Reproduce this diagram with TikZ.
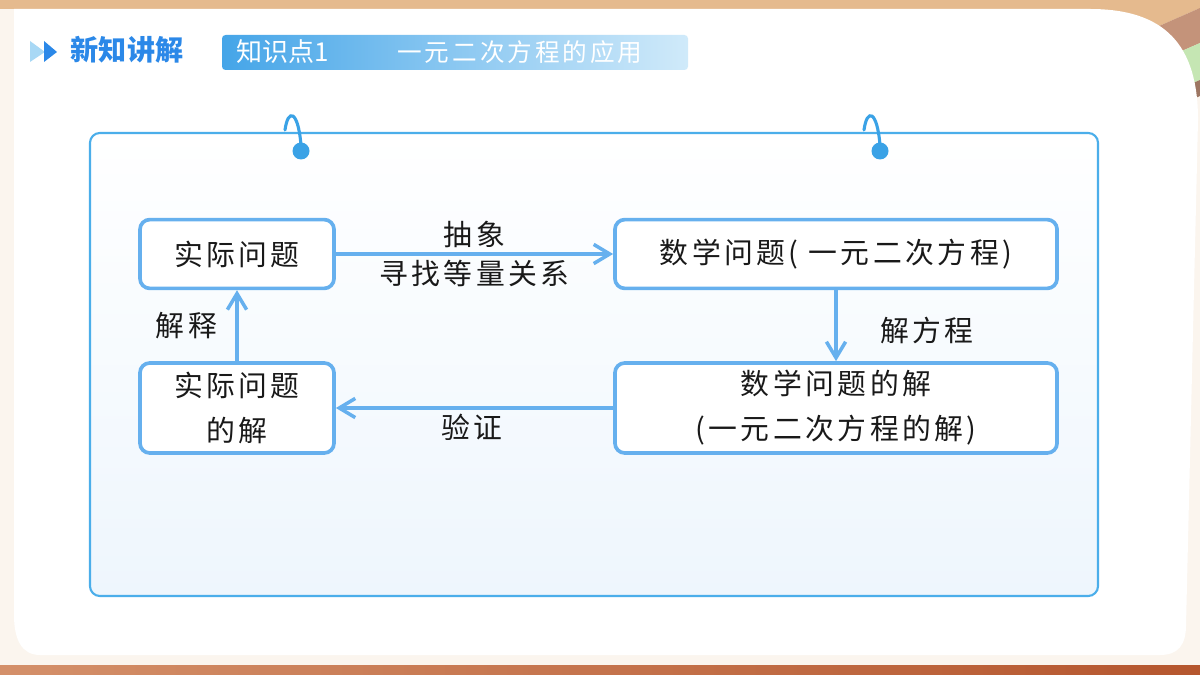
\documentclass[tikz,border=0pt]{standalone}
\usepackage{fontspec}
\setmainfont{Liberation Serif}
\newfontfamily\cjk[LetterSpace=12]{Noto Sans CJK SC}
\newfontfamily\cjkhead{Noto Sans CJK SC}
\usetikzlibrary{arrows.meta,positioning,calc}
\definecolor{skyblue}{HTML}{66B0EE}
\definecolor{frameblue}{HTML}{4BAEEA}
\definecolor{hookblue}{HTML}{3AA2E6}
\definecolor{headblue}{HTML}{2B88E8}
\definecolor{headlight}{HTML}{A8D8F5}
\definecolor{bannerleft}{HTML}{45A5E8}
\definecolor{bannerright}{HTML}{D0EAFA}
\definecolor{panelfoot}{HTML}{EEF6FD}
\definecolor{cream}{HTML}{FBF5EE}
\definecolor{tan}{HTML}{E5BA8E}
\definecolor{clay}{HTML}{C4937A}
\definecolor{leaf}{HTML}{C5E6B3}
\definecolor{rustlight}{HTML}{D4906A}
\definecolor{rustdark}{HTML}{B5562E}
\newcommand\boxfont{\cjk\fontsize{20.5pt}{32pt}\selectfont}
\tikzset{
  >={Straight Barb[length=4mm,width=4.8mm]},
  % kaders
  stepbox/.style={rectangle,rounded corners=7pt,draw=skyblue,fill=white,
                  line width=2.6pt,align=center,font=\boxfont,text=black!90},
  flow/.style={->,draw=skyblue,line width=2.5pt},
  lbl/.style={font=\boxfont,text=black!90,inner sep=3pt},
  hook/.style={draw=hookblue,line width=2.2pt,line cap=round},
}
\begin{document}
\begin{tikzpicture}[x=0.025cm,y=-0.025cm]
  \useasboundingbox (0,0) rectangle (1200,675);
  % achtergrond
  \fill[cream] (0,0) rectangle (1200,675);
  \fill[tan] (0,0) rectangle (1200,9);
  \fill[tan] (1040,0) -- (1200,0) -- (1200,8) -- (1100,52) -- cycle;
  \fill[clay] (1100,52) -- (1200,8) -- (1200,43) -- (1100,87) -- cycle;
  \fill[leaf] (1100,87) -- (1200,43) -- (1200,80) -- (1100,124) -- cycle;
  \fill[clay!80!black] (1100,124) -- (1200,80) -- (1200,96) -- (1100,140) -- cycle;
  \shade[left color=rustlight,right color=rustdark] (0,665) rectangle (1200,675);
  \fill[white] (14,9) -- (1090,9) .. controls (1165,9) and (1198,45) .. (1198,120)
    -- (1186,625) .. controls (1186,645) and (1178,655) .. (1160,655)
    -- (40,655) .. controls (22,655) and (14,640) .. (14,615) -- cycle;
  % kop
  \fill[headlight] (30,41) -- (30,62) -- (45,52) -- cycle;
  \fill[headblue] (44,41) -- (44,62) -- (57,52) -- cycle;
  \node[font=\cjkhead\fontsize{20pt}{24pt}\selectfont\bfseries,text=headblue] (kop) at (127,50) {新知讲解};
  \shade[left color=bannerleft,right color=bannerright,rounded corners=2.5pt] (222,35) rectangle (688,70);
  \node[font=\cjkhead\fontsize{18.5pt}{20pt}\selectfont,text=white] (punt) at (283,52) {知识点1};
  \node[font=\cjk\fontsize{17.5pt}{20pt}\selectfont,text=white] (titel) at (520,52) {一元二次方程的应用};
  % paneel
  \shadedraw[top color=white,bottom color=panelfoot,draw=frameblue,line width=1.5pt,rounded corners=7pt]
    (90,133) rectangle (1098,596);
  \foreach \hx in {301,880} {
    \draw[hook] (\hx-16,130) .. controls (\hx-13,108) and (\hx-3,110) .. (\hx,145);
    \fill[hookblue] (\hx,151) circle (8.5);
  }
  % stappen
  \node[stepbox,minimum width=4.85cm,minimum height=1.72cm] (real) at (237,254) {实际问题};
  \node[stepbox,minimum width=11.05cm,minimum height=1.72cm] (math) at (836,254) {数学问题( 一元二次方程)};
  \node[stepbox,minimum width=11.05cm,minimum height=2.25cm] (msol) at (836,408) {数学问题的解\\(一元二次方程的解)};
  \node[stepbox,minimum width=4.85cm,minimum height=2.25cm] (rsol) at (237,408) {实际问题\\的解};
  \draw[flow] (real) -- node[lbl,above]{抽象} node[lbl,below]{寻找等量关系} (math);
  \draw[flow] (math) -- node[lbl,right=0.95cm,pos=0.57]{解方程} (msol);
  \draw[flow] (msol) -- node[lbl,below,pos=0.51]{验证} (rsol);
  \draw[flow] (rsol) -- node[lbl,left=0.35cm,pos=0.5]{解释} (real);
\end{tikzpicture}
\end{document}
